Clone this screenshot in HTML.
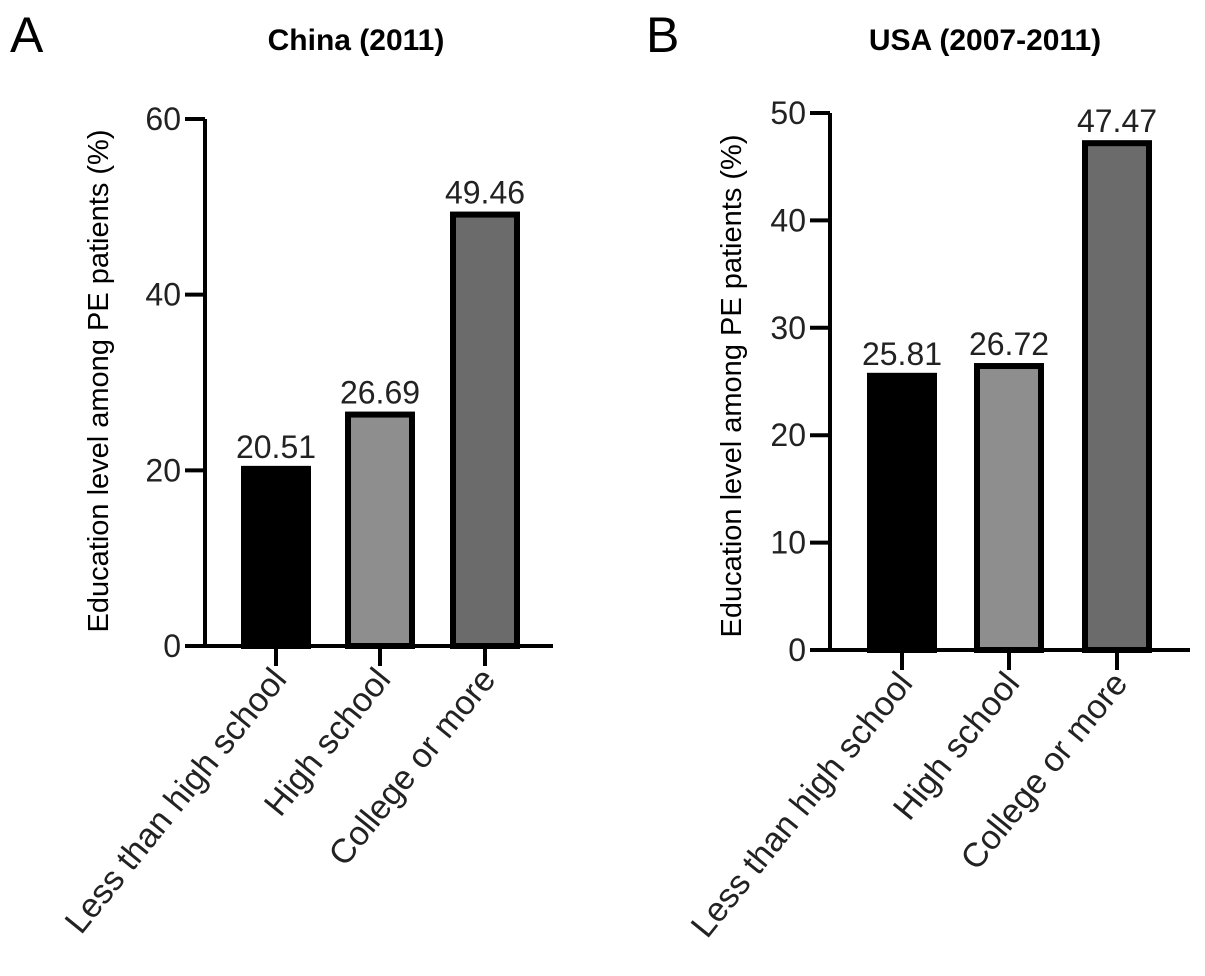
<!DOCTYPE html>
<html><head><meta charset="utf-8"><style>
body{margin:0;background:#fff}
svg{display:block;font-family:"Liberation Sans",Arial,sans-serif}
</style></head><body>
<svg id="c" width="1205" height="976" viewBox="0 0 1205 976">
<text x="10" y="52" font-size="50">A</text>
<text x="646" y="52" font-size="50">B</text>
<text x="356" y="50" font-size="30" font-weight="bold" text-anchor="middle">China (2011)</text>
<text x="985" y="50" font-size="30" font-weight="bold" text-anchor="middle">USA (2007-2011)</text>
<text transform="translate(108,381) rotate(-90)" font-size="29" text-anchor="middle">Education level among PE patients (%)</text>
<text transform="translate(741,386) rotate(-90)" font-size="29" text-anchor="middle">Education level among PE patients (%)</text>
<g id="ga"></g><g id="gb"></g>
</svg>
<script>
const categories = ["Less than high school","High school","College or more"];
const chinaValues = [20.51, 26.69, 49.46];
const usaValues = [25.81, 26.72, 47.47];
const chinaTicks = [0,20,40,60];
const usaTicks = [0,10,20,30,40,50];
const fills = ["#000","#8e8e8e","#6b6b6b"];
const NS="http://www.w3.org/2000/svg";
function mk(p,t,a){const e=document.createElementNS(NS,t);for(const k in a)e.setAttribute(k,a[k]);p.appendChild(e);return e;}
function panel(g,cfg,vals,ticks,tag){
  const y=v=>cfg.y0-(v/cfg.max)*(cfg.y0-cfg.yTop);
  const ax=mk(g,'line',{x1:cfg.ax,y1:cfg.yTop,x2:cfg.ax,y2:cfg.y0+2,stroke:'#000','stroke-width':4});
  
  
  const xl=mk(g,'line',{x1:cfg.ax-20,y1:cfg.y0,x2:cfg.xEnd,y2:cfg.y0,stroke:'#000','stroke-width':4});
  
  
  ticks.forEach(t=>{
    const l=mk(g,'line',{x1:cfg.ax-20,y1:y(t),x2:cfg.ax,y2:y(t),stroke:'#000','stroke-width':4});
    
    
    const tx=mk(g,'text',{x:cfg.ax-24,y:y(t)+11,'font-size':32,'text-anchor':'end',fill:'#222'});
    tx.textContent=t;
    
    
  });
  vals.forEach((v,i)=>{
    const cx=cfg.cx[i],w=cfg.w;
    const r=mk(g,'rect',{x:cx-w/2+3,y:y(v)+3,width:w-6,height:cfg.y0-y(v)-3,fill:fills[i],stroke:'#000','stroke-width':6});
    
    
    const tk=mk(g,'line',{x1:cx,y1:cfg.y0,x2:cx,y2:cfg.y0+20,stroke:'#000','stroke-width':4});
    
    
    const vl=mk(g,'text',{x:cx,y:y(v)-8,'font-size':32,'text-anchor':'middle',fill:'#222'});
    vl.textContent=v.toFixed(2);
    
    
    const cl=mk(g,'text',{transform:`translate(${cx+12},${cfg.y0+34}) rotate(-51)`,'font-size':34,'text-anchor':'end',fill:'#222'});
    cl.textContent=categories[i];
    
    
  });
}
panel(document.getElementById('ga'),{ax:205,y0:646,yTop:119,max:60,xEnd:553,cx:[276,380,485],w:70},chinaValues,chinaTicks,'china');
panel(document.getElementById('gb'),{ax:830,y0:650,yTop:113,max:50,xEnd:1190,cx:[902,1009,1117],w:70},usaValues,usaTicks,'usa');
</script>
</body></html>
